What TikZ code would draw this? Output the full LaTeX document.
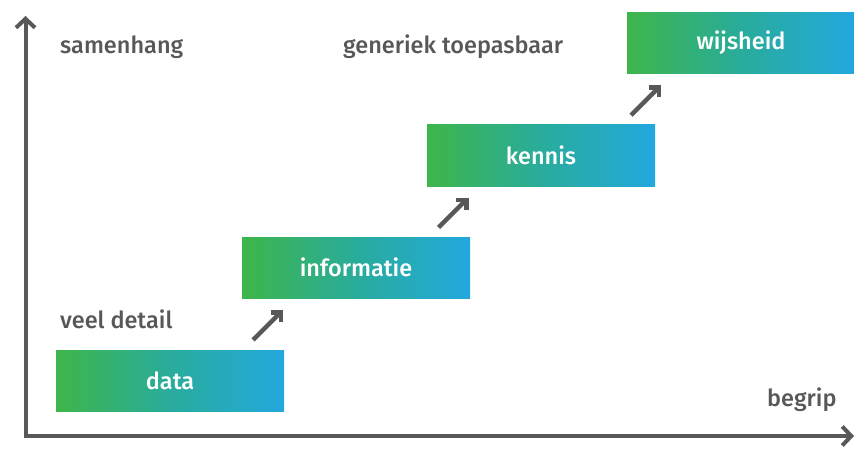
\documentclass[tikz,border=0pt]{standalone}
\usepackage{fontspec}
\setmainfont{Fira Sans Medium}
\usepackage{xcolor}
\usetikzlibrary{arrows.meta, positioning, calc}
\definecolor{cgreen} {RGB}{62,181,74}
\definecolor{cteal}  {RGB}{41,172,156}
\definecolor{cblue}  {RGB}{34,168,222}
\definecolor{cgray}  {RGB}{88,88,88}
\tikzset{
  lvl/.style={rectangle, minimum width=228pt, minimum height=61pt,
              left color=cgreen, right color=cblue, middle color=cteal,
              font=\fontsize{23.5}{25}\selectfont, text=white, inner sep=0pt},
  axis/.style={{Straight Barb[length=9pt,width=19pt]}-{Straight Barb[length=9pt,width=19pt]},
               line width=4pt, color=cgray},
  stp/.style={-{Straight Barb[length=7pt,width=14pt]}, line width=4.5pt, color=cgray},
  lab/.style={font=\fontsize{23.5}{25}\selectfont, text=cgray, inner sep=0pt},
}

\begin{document}
\begin{tikzpicture}[x=1pt, y=1pt]
  \useasboundingbox (0,0) rectangle (854,448);

  % ── Axes ───────────────────────────────────────────────────────────────────
  \coordinate (top) at (25.5,432);
  \coordinate (end) at (854,12);
  \draw[axis] (top) |- (end);

  % ── Levels ─────────────────────────────────────────────────────────────────
  \node[lvl] at (170,67.5)  (data) {data};
  \node[lvl] at (356,180.5) (info) {informatie};
  \node[lvl] at (541,292.5) (kenn) {kennis};
  \node[lvl] at (741,405)   (wijs) {wijsheid};

  % ── Axis labels ────────────────────────────────────────────────────────────
  \node[lab, anchor=west] at (60,401)  (samen) {samenhang};
  \node[lab, anchor=west] at (343,401) (gener) {generiek toepasbaar};
  \node[lab, anchor=west] at (60,129)  (detail) {veel detail};
  \node[lab, anchor=west] at (767,48)  (begrip) {begrip};

  % ── Steps ──────────────────────────────────────────────────────────────────
  \foreach \a/\b in {data/info, info/kenn, kenn/wijs}{
    \coordinate (m) at ($(\a.north east)!0.5!(\b.south west)+(5,-1)$);
    \draw[stp] ($(m)+(-15,-15)$) -- ($(m)+(15,15)$);
  }
\end{tikzpicture}
\end{document}
